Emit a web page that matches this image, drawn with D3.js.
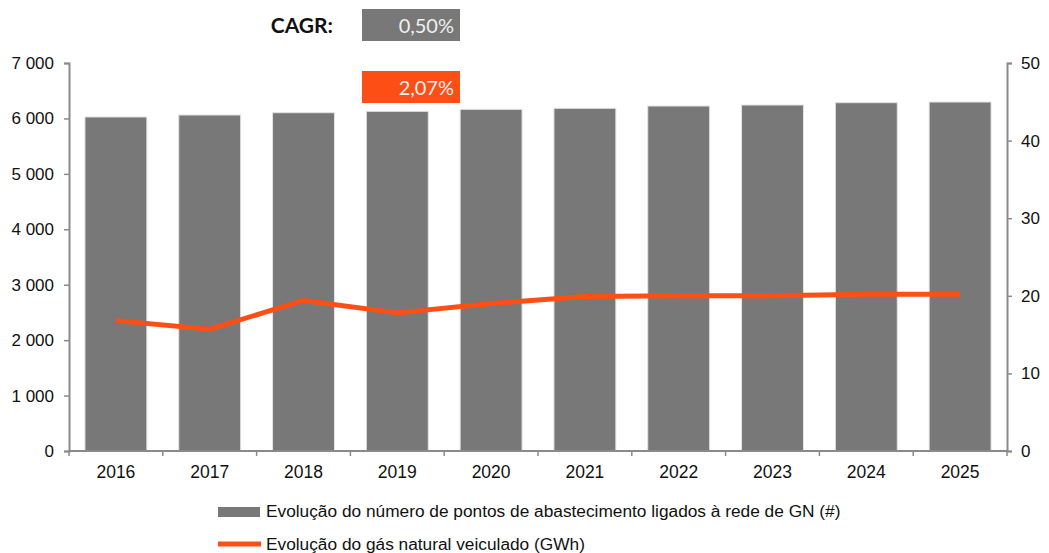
<!DOCTYPE html>
<html>
<head>
<meta charset="utf-8">
<script src="https://cdn.jsdelivr.net/npm/d3@7"></script>
<style>
    body { margin: 0; background: #fff; }
    text { font-family: "Liberation Sans", Arial, sans-serif; fill: #111; }
</style>
</head>
<body>
<script>
// chart data
var years = ["2016", "2017", "2018", "2019", "2020", "2021", "2022", "2023", "2024", "2025"];
var pontos = [6026, 6062, 6103, 6128, 6164, 6183, 6224, 6242, 6284, 6296];
var gasGWh = [16.8, 15.7, 19.4, 17.8, 19.0, 19.9, 20.0, 20.0, 20.2, 20.2];
var leftTicks = [0, 1000, 2000, 3000, 4000, 5000, 6000, 7000];
var rightTicks = [0, 10, 20, 30, 40, 50];
var cagrLabels = ["0,50%", "2,07%"];
var legendLabels = [
    "Evolução do número de pontos de abastecimento ligados à rede de GN (#)",
    "Evolução do gás natural veiculado (GWh)"
];

var width = 1049, height = 553;
var margin = {top: 63, right: 42, bottom: 102, left: 69};
var innerW = width - margin.left - margin.right;
var innerH = height - margin.top - margin.bottom;

var grey = "#787878", orange = "#fd4e16", axisCol = "#8a8a8a";

var svg = d3.select("body").append("svg")
    .attr("width", width)
    .attr("height", height);

var g = svg.append("g")
    .attr("transform", "translate(" + margin.left + "," + margin.top + ")");

// scales
var x = d3.scaleBand().domain(years).range([0, innerW])
    .paddingInner(0.34).paddingOuter(0.17);
var yL = d3.scaleLinear().domain([0, 7000]).range([innerH, 0]);
var yR = d3.scaleLinear().domain([0, 50]).range([innerH, 0]);

var fmt = function (d) { return d3.format(",")(d).replace(/,/g, " "); };

// bars
g.selectAll(".bar")
    .data(pontos)
    .enter().append("rect")
    .attr("class", "bar")
    .attr("x", function (d, i) { return x(years[i]); })
    .attr("y", function (d) { return yL(d); })
    .attr("width", x.bandwidth())
    .attr("height", function (d) { return innerH - yL(d); })
    .attr("fill", grey)
    .attr("stroke", "#e2e2e2")
    .attr("stroke-width", 1);

// line
var line = d3.line()
    .x(function (d, i) { return x(years[i]) + x.bandwidth() / 2; })
    .y(function (d) { return yR(d); });

g.append("path")
    .datum(gasGWh)
    .attr("d", line)
    .attr("fill", "none")
    .attr("stroke", orange)
    .attr("stroke-width", 5)
    .attr("stroke-linejoin", "round");

// left axis
var axL = g.append("g")
    .call(d3.axisLeft(yL).tickValues(leftTicks).tickFormat(fmt).tickSize(5).tickPadding(10));
// right axis
var axR = g.append("g")
    .attr("transform", "translate(" + innerW + ",0)")
    .call(d3.axisRight(yR).tickValues(rightTicks).tickSize(5).tickPadding(9));

[axL, axR].forEach(function (ax) {
    ax.select(".domain").attr("stroke", axisCol).attr("stroke-width", 2);
    ax.selectAll(".tick line").attr("stroke", axisCol).attr("stroke-width", 1.5);
    ax.selectAll(".tick text").style("font-size", "17px").attr("fill", "#111");
});

// bottom axis: ticks between categories
var step = x.step();
var bounds = d3.range(years.length + 1).map(function (i) { return i * step; });
var axB = g.append("g").attr("transform", "translate(0," + innerH + ")");
axB.append("line")
    .attr("x1", 0).attr("x2", innerW)
    .attr("stroke", axisCol).attr("stroke-width", 2);
axB.selectAll(".btick")
    .data(bounds)
    .enter().append("line")
    .attr("x1", function (d) { return d; })
    .attr("x2", function (d) { return d; })
    .attr("y1", 0).attr("y2", 5)
    .attr("stroke", axisCol).attr("stroke-width", 1.5);
axB.selectAll(".blabel")
    .data(years)
    .enter().append("text")
    .attr("x", function (d) { return x(d) + x.bandwidth() / 2; })
    .attr("y", 27)
    .attr("text-anchor", "middle")
    .style("font-size", "17.5px")
    .text(function (d) { return d; });

// CAGR boxes
svg.append("text")
    .attr("x", 333).attr("y", 33)
    .attr("text-anchor", "end")
    .style("font-family", "Lato, sans-serif")
    .style("font-weight", "bold")
    .style("font-size", "21px")
    .text("CAGR:");

var boxCols = [grey, orange];
var boxY = [9, 71];
cagrLabels.forEach(function (lab, i) {
    svg.append("rect")
        .attr("x", 362).attr("y", boxY[i])
        .attr("width", 98).attr("height", 32)
        .attr("fill", boxCols[i]);
    svg.append("text")
        .attr("x", 454).attr("y", boxY[i] + 24)
        .attr("text-anchor", "end")
        .style("font-family", "Lato, sans-serif")
        .style("font-size", "20px")
        .style("fill", "#f0f0f0")
        .text(lab);
});

// legend
var leg = svg.append("g");
leg.append("rect")
    .attr("x", 218).attr("y", 507)
    .attr("width", 42).attr("height", 10)
    .attr("fill", grey);
leg.append("line")
    .attr("x1", 218).attr("x2", 261)
    .attr("y1", 544).attr("y2", 544)
    .attr("stroke", orange).attr("stroke-width", 5);
leg.selectAll(".ltext")
    .data(legendLabels)
    .enter().append("text")
    .attr("x", 266)
    .attr("y", function (d, i) { return 517 + i * 33; })
    .style("font-size", "17.3px")
    .text(function (d) { return d; });
</script>
</body>
</html>
